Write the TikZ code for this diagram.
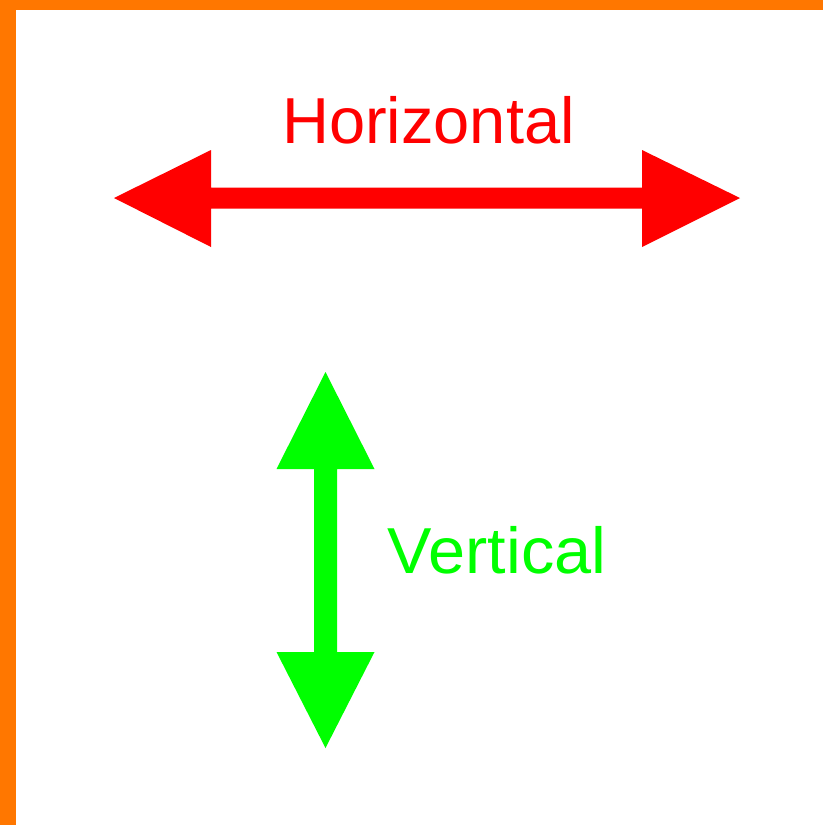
\documentclass[tikz,border=0pt]{standalone}
\usepackage{fontspec}
\setmainfont{Liberation Sans}
\definecolor{frameorange}{RGB}{255,119,0}
\definecolor{hred}{RGB}{255,0,0}
\definecolor{vgreen}{RGB}{0,255,0}
\begin{document}
\begin{tikzpicture}[x=1pt,y=-1pt,
  lbl/.style={inner sep=0pt,font=\fontsize{65}{78}\selectfont}]
\useasboundingbox (0,0) rectangle (823,825);
% frame
\fill[frameorange] (0,0) rectangle (823,10);
\fill[frameorange] (0,0) rectangle (16,825);
% horizontal arrow
\coordinate (hl) at (114,198);
\coordinate (hr) at (740,198);
\fill[hred] (hl) -- (211,150) -- (211,187.5) -- (642,187.5) -- (642,150) -- (hr)
  -- (642,247) -- (642,208.5) -- (211,208.5) -- (211,247) -- cycle;
\node[lbl,text=hred,anchor=base] (htext) at (428.5,143) {Horizontal};
% vertical arrow
\coordinate (vt) at (325.5,372);
\coordinate (vb) at (325.5,748);
\fill[vgreen] (vt) -- (374.5,469) -- (337,469) -- (337,652) -- (374.5,652) -- (vb)
  -- (276.5,652) -- (314,652) -- (314,469) -- (276.5,469) -- cycle;
\node[lbl,text=vgreen,anchor=base west,xscale=1.025] (vtext) at (387.5,573) {Vertical};
\end{tikzpicture}
\end{document}
